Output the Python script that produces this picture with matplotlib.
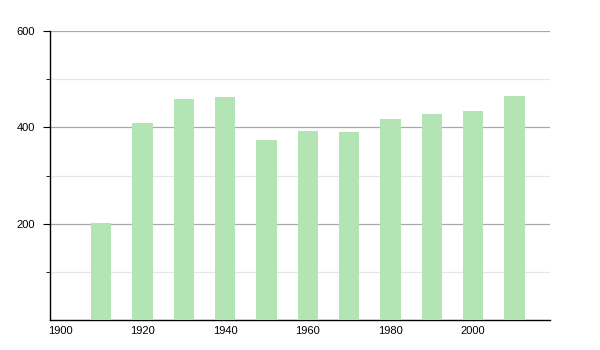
import matplotlib
matplotlib.use("Agg")
import matplotlib.pyplot as plt
import numpy as np

# population by census year
years = [1910, 1920, 1930, 1940, 1950, 1960, 1970, 1980, 1990, 2000, 2010]
values = [201, 408, 458, 462, 374, 392, 391, 417, 428, 434, 466]
xticks = [1900, 1920, 1940, 1960, 1980, 2000]
yticks = [200, 400, 600]
yminor = [100, 300, 500]

plt.rcParams['font.family'] = ['Liberation Sans', 'DejaVu Sans']

fig = plt.figure(figsize=(6, 3.5), dpi=100)
ax = fig.add_axes([50/600, 1-320/350, 500/600, 289/350])

ax.bar(years, values, width=4.9, color='#b3e4b3', zorder=3)

ax.set_xlim(1897.6, 2018.6)
ax.set_ylim(0, 600)
ax.set_xticks(xticks)
ax.set_yticks(yticks)
ax.set_yticks(yminor, minor=True)

ax.grid(axis='y', which='major', color='#a8a8a8', linewidth=0.9, zorder=0)
ax.grid(axis='y', which='minor', color='#e6e6e6', linewidth=0.9, zorder=0)

for s in ['top', 'right']:
    ax.spines[s].set_visible(False)
ax.spines['left'].set_linewidth(1.0)
ax.spines['bottom'].set_linewidth(1.0)

ax.tick_params(axis='x', length=0, labelsize=8, pad=4)
ax.tick_params(axis='y', which='major', length=5, labelsize=8, pad=6)
ax.tick_params(axis='y', which='minor', length=3)

fig.savefig('out.png', dpi=100)
